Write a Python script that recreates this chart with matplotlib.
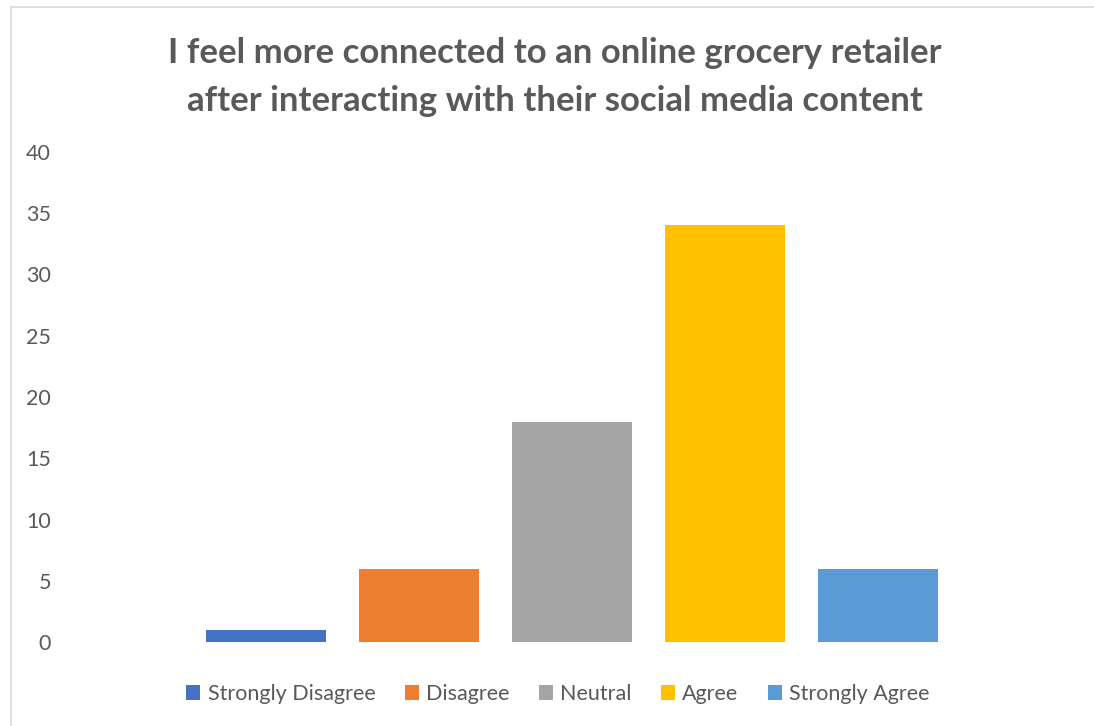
import matplotlib.pyplot as plt
from matplotlib.lines import Line2D

# survey responses
categories = ["Strongly Disagree", "Disagree", "Neutral", "Agree", "Strongly Agree"]
counts = [1, 6, 18, 34, 6]
colors = ["#4472C4", "#ED7D31", "#A5A5A5", "#FFC000", "#5B9BD5"]
y_ticks = [0, 5, 10, 15, 20, 25, 30, 35, 40]

title = "I feel more connected to an online grocery retailer\nafter interacting with their social media content"

plt.rcParams["font.family"] = ["Lato", "DejaVu Sans"]
text_color = "#595959"

W, H = 1094, 726
fig = plt.figure(figsize=(W / 100, H / 100), dpi=100)

# plot area in pixels: left edge 60, y=0 at 642, y=40 at 152
left_px, right_px = 60, 1075
ax = fig.add_axes([left_px / W, 1 - 642 / H, (right_px - left_px) / W, (642 - 152) / H])

step = 153.0
xmin = -(266 - left_px) / step
xmax = xmin + (right_px - left_px) / step

for i, (cat, val, col) in enumerate(zip(categories, counts, colors)):
    ax.bar(i, val, width=0.79, color=col, label=cat, zorder=2)

ax.set_xlim(xmin, xmax)
ax.set_ylim(0, 40)
ax.set_yticks(y_ticks)
ax.set_xticks([])
ax.tick_params(axis="y", length=0, pad=6.5, labelsize=15.5, labelcolor=text_color)
for s in ax.spines.values():
    s.set_visible(False)

fig.text(555 / W, 1 - 77 / H, title, ha="center", va="center", fontsize=25,
         fontweight="bold", color=text_color, linespacing=1.65)

leg = ax.legend(loc="center", bbox_to_anchor=(558 / W, 1 - 694 / H),
                bbox_transform=fig.transFigure, ncol=5, frameon=False,
                fontsize=15.5, handlelength=0.65, handleheight=0.65,
                handletextpad=0.35, columnspacing=1.35)
for t in leg.get_texts():
    t.set_color(text_color)

# chart frame (left and top edges)
fig.add_artist(Line2D([10.5 / W, 10.5 / W], [0, 1 - 7 / H], transform=fig.transFigure,
                      color="#D9D9D9", lw=1.2))
fig.add_artist(Line2D([10.5 / W, 1], [1 - 7 / H, 1 - 7 / H], transform=fig.transFigure,
                      color="#D9D9D9", lw=1.2))

fig.savefig("out.png", dpi=100)
